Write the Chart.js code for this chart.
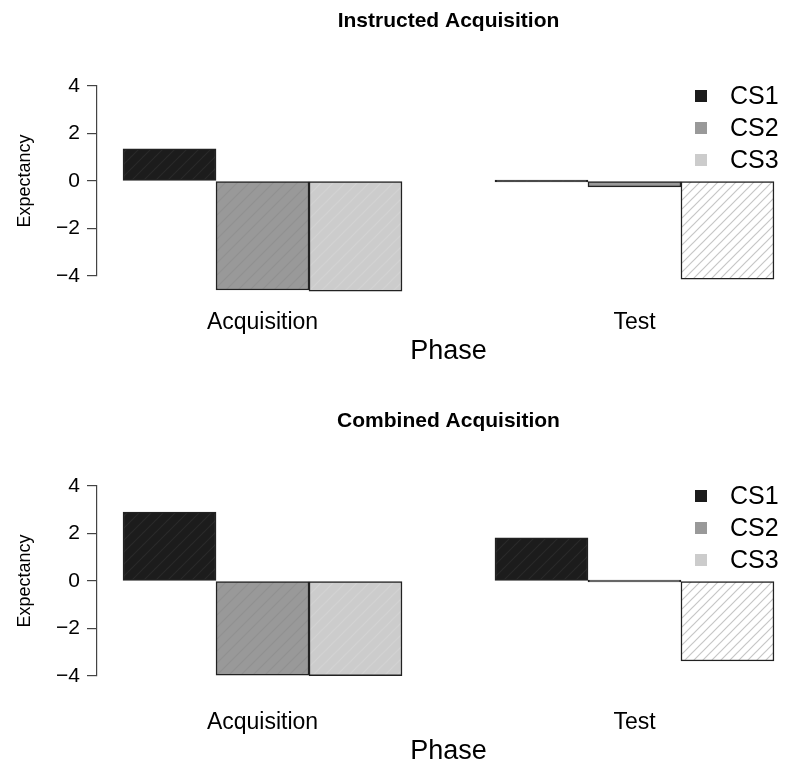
<!DOCTYPE html>
<html>
<head>
<meta charset="utf-8">
<script src="https://cdn.jsdelivr.net/npm/chart.js@4/dist/chart.umd.min.js"></script>
<style>
  html, body { margin: 0; padding: 0; background: #fff; overflow: hidden; }
  canvas { display: block; }
</style>
</head>
<body>
<canvas id="instructedChart" width="800" height="400"></canvas>
<canvas id="combinedChart" width="800" height="400"></canvas>
<script>
// Dados
const phases = ['Acquisition', 'Test'];
const seriesNames = ['CS1', 'CS2', 'CS3'];
const yTicks = [-4, -2, 0, 2, 4];

const instructedCS1 = [1.35, 0];
const instructedCS2 = [-4.59, -0.25];
const instructedCS3 = [-4.64, -4.13];

const combinedCS1 = [2.9, 1.82];
const combinedCS2 = [-3.96, 0];
const combinedCS3 = [-3.99, -3.37];

const FONT = '"Liberation Sans", Arial, Helvetica, sans-serif';
const legendColors = ['#1c1c1c', '#999999', '#cccccc'];

// Padrão de hachura diagonal
function makeHatch(bg, line, size) {
    const c = document.createElement('canvas');
    c.width = size;
    c.height = size;
    const g = c.getContext('2d');
    g.fillStyle = bg;
    g.fillRect(0, 0, size, size);
    g.strokeStyle = line;
    g.lineWidth = 1.2;
    g.beginPath();
    g.moveTo(0, size); g.lineTo(size, 0);
    g.moveTo(-size / 2, size / 2); g.lineTo(size / 2, -size / 2);
    g.moveTo(size / 2, size * 1.5); g.lineTo(size * 1.5, size / 2);
    g.stroke();
    return g.createPattern(c, 'repeat');
}

const fillDark = makeHatch('#1c1c1c', '#2a2a2a', 12);
const fillMid = makeHatch('#999999', '#919191', 12);
const fillLight = makeHatch('#cccccc', '#d3d3d3', 12);
const fillWhite = makeHatch('#ffffff', '#c6c6c6', 9);

// Posição no eixo x: grupos de 3 barras com um espaço entre eles (como barplot do R)
function barPoints(values, seriesIndex) {
    return values.map((v, g) => ({ x: g * 4 + 1.5 + seriesIndex, y: v }));
}

// Título centrado na área do gráfico
const panelTitlePlugin = {
    id: 'panelTitle',
    afterDraw(chart, args, opts) {
        const ctx = chart.ctx;
        const area = chart.chartArea;
        ctx.save();
        ctx.font = 'bold 21px ' + FONT;
        ctx.fillStyle = '#000';
        ctx.textAlign = 'center';
        ctx.textBaseline = 'middle';
        ctx.fillText(opts.text, (area.left + area.right) / 2, 21);
        ctx.restore();
    }
};

const legendPlugin = {
    id: 'cornerLegend',
    afterDraw(chart) {
        const ctx = chart.ctx;
        const top = chart.chartArea.top;
        const right = chart.chartArea.right;
        ctx.save();
        ctx.font = '25px ' + FONT;
        ctx.textBaseline = 'middle';
        seriesNames.forEach((name, i) => {
            const y = top + 10 + i * 32;
            ctx.fillStyle = legendColors[i];
            ctx.fillRect(right - 105, y - 6, 12, 12);
            ctx.fillStyle = '#000';
            ctx.fillText(name, right - 70, y + 1);
        });
        ctx.restore();
    }
};

function buildChart(canvasId, title, cs1, cs2, cs3, testFills) {
    const ctx = document.getElementById(canvasId).getContext('2d');
    const H = ctx.canvas.height;
    const common = {
        borderColor: '#222',
        borderWidth: 1.5,
        borderSkipped: false,
        barPercentage: 1,
        categoryPercentage: 1,
        grouped: false,
        minBarLength: 2,
        clip: false
    };
    return new Chart(ctx, {
        type: 'bar',
        data: {
            datasets: [
                Object.assign({ label: seriesNames[0], data: barPoints(cs1, 0), backgroundColor: [fillDark, testFills[0]] }, common),
                Object.assign({ label: seriesNames[1], data: barPoints(cs2, 1), backgroundColor: [fillMid, testFills[1]] }, common),
                Object.assign({ label: seriesNames[2], data: barPoints(cs3, 2), backgroundColor: [fillLight, testFills[2]] }, common)
            ]
        },
        options: {
            responsive: false,
            animation: false,
            layout: { padding: { top: 86, left: 0, right: 0, bottom: 0 } },
            plugins: {
                legend: { display: false },
                tooltip: { enabled: false },
                title: { display: false },
                panelTitle: { text: title }
            },
            scales: {
                x: {
                    type: 'linear',
                    offset: false,
                    min: 0.72,
                    max: 8.28,
                    grid: { display: false, drawTicks: false },
                    border: { display: false },
                    afterBuildTicks: scale => {
                        scale.ticks = phases.map((p, i) => ({ value: i * 4 + 2.5 }));
                    },
                    afterFit: scale => { scale.height = H - 276; },
                    ticks: {
                        color: '#000',
                        font: { family: FONT, size: 23 },
                        padding: 33,
                        maxRotation: 0,
                        autoSkip: false,
                        callback: (v, i) => phases[i]
                    },
                    title: {
                        display: true,
                        text: 'Phase',
                        color: '#000',
                        font: { family: FONT, size: 27 },
                        padding: { top: 0, bottom: H - 352 - 16.2 }
                    }
                },
                y: {
                    min: -4,
                    max: 4,
                    afterBuildTicks: scale => {
                        scale.ticks = yTicks.map(v => ({ value: v }));
                    },
                    afterFit: scale => { scale.width = 97; },
                    border: { display: true, color: '#444', width: 1.2 },
                    grid: { drawOnChartArea: false, tickLength: 10, color: '#444', lineWidth: 1.2 },
                    ticks: {
                        color: '#000',
                        font: { family: FONT, size: 21 },
                        padding: 7,
                        callback: v => (v < 0 ? '\u2212' + Math.abs(v) : String(v))
                    },
                    title: {
                        display: true,
                        text: 'Expectancy',
                        color: '#000',
                        font: { family: FONT, size: 18 },
                        padding: { top: 14, bottom: 0 }
                    }
                }
            }
        },
        plugins: [panelTitlePlugin, legendPlugin]
    });
}

buildChart('instructedChart', 'Instructed Acquisition',
    instructedCS1, instructedCS2, instructedCS3, [fillDark, '#999999', fillWhite]);
buildChart('combinedChart', 'Combined Acquisition',
    combinedCS1, combinedCS2, combinedCS3, [fillDark, '#999999', fillWhite]);
</script>
</body>
</html>
